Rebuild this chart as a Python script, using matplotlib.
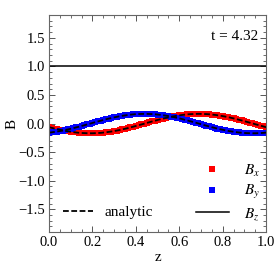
import matplotlib
matplotlib.use('Agg')
import matplotlib.pyplot as plt
from matplotlib.ticker import MultipleLocator

plt.rcParams['font.family'] = ['Liberation Serif', 'DejaVu Serif']
plt.rcParams['mathtext.fontset'] = 'stix'

# data: circularly polarised wave at t = 4.32, sampled every 0.0125 in z
z = [i / 80 for i in range(81)]
bx = [-0.063, -0.075, -0.087, -0.098, -0.108, -0.118, -0.128, -0.136, -0.143, -0.150,
      -0.156, -0.161, -0.165, -0.167, -0.169, -0.170, -0.170, -0.168, -0.166, -0.163,
      -0.158, -0.153, -0.146, -0.139, -0.131, -0.122, -0.113, -0.102, -0.091, -0.080,
      -0.067, -0.055, -0.042, -0.029, -0.016, -0.003, 0.011, 0.024, 0.037, 0.050,
      0.063, 0.075, 0.087, 0.098, 0.108, 0.118, 0.128, 0.136, 0.143, 0.150,
      0.156, 0.161, 0.165, 0.167, 0.169, 0.170, 0.170, 0.168, 0.166, 0.163,
      0.158, 0.153, 0.146, 0.139, 0.131, 0.122, 0.113, 0.102, 0.091, 0.080,
      0.067, 0.055, 0.042, 0.029, 0.016, 0.003, -0.011, -0.024, -0.037, -0.050,
      -0.063]
by = [-0.158, -0.153, -0.146, -0.139, -0.131, -0.122, -0.113, -0.102, -0.091, -0.080,
      -0.067, -0.055, -0.042, -0.029, -0.016, -0.003, 0.011, 0.024, 0.037, 0.050,
      0.063, 0.075, 0.087, 0.098, 0.108, 0.118, 0.128, 0.136, 0.143, 0.150,
      0.156, 0.161, 0.165, 0.167, 0.169, 0.170, 0.170, 0.168, 0.166, 0.163,
      0.158, 0.153, 0.146, 0.139, 0.131, 0.122, 0.113, 0.102, 0.091, 0.080,
      0.067, 0.055, 0.042, 0.029, 0.016, 0.003, -0.011, -0.024, -0.037, -0.050,
      -0.063, -0.075, -0.087, -0.098, -0.108, -0.118, -0.128, -0.136, -0.143, -0.150,
      -0.156, -0.161, -0.165, -0.167, -0.169, -0.170, -0.170, -0.168, -0.166, -0.163,
      -0.158]
bz = [1.0] * len(z)
t_label = 't = 4.32'

fig = plt.figure(figsize=(2.74, 2.74), dpi=100)
ax = fig.add_axes([0.179, 0.153, 0.792, 0.792])

h_bx, = ax.plot(z, bx, 's', color='red', ms=5.0, mew=0, label='$B_x$')
h_by, = ax.plot(z, by, 's', color='blue', ms=5.0, mew=0, label='$B_y$')
h_an, = ax.plot(z, bx, '--', color='black', lw=1.3, dashes=(3.2, 1.4), label='analytic')
ax.plot(z, by, '--', color='black', lw=1.3, dashes=(3.2, 1.4))
h_bz, = ax.plot(z, bz, '-', color='black', lw=1.1, label='$B_z$')

ax.set_xlim(0, 1)
ax.set_ylim(-1.9, 1.9)
ax.xaxis.set_major_locator(MultipleLocator(0.2))
ax.xaxis.set_minor_locator(MultipleLocator(0.05))
ax.yaxis.set_major_locator(MultipleLocator(0.5))
ax.yaxis.set_minor_locator(MultipleLocator(0.1))
ax.tick_params(which='both', direction='in', top=True, right=True, labelsize=10.5,
               color='#555555', pad=3)
ax.tick_params(which='major', length=4, width=0.7)
ax.tick_params(which='minor', length=2, width=0.6)
for s in ax.spines.values():
    s.set_color('#666666')
    s.set_linewidth(0.8)

ax.set_xlabel('z', fontsize=11, labelpad=1)
ax.set_ylabel('B', fontsize=11, labelpad=0)

ax.text(0.965, 0.903, t_label, transform=ax.transAxes, ha='right', va='center',
        fontsize=11)

leg1 = ax.legend(handles=[h_bx, h_by, h_bz], loc='lower right', frameon=False,
                 fontsize=11, handlelength=2.2, handletextpad=1.0, labelspacing=0.3,
                 borderaxespad=0.1, markerscale=0.8, bbox_to_anchor=(1.01, 0.012))
ax.add_artist(leg1)
ax.legend(handles=[h_an], loc='lower left', frameon=False, fontsize=11,
          handlelength=2.0, handletextpad=0.7, bbox_to_anchor=(0.0, -0.005))

fig.savefig('out.png', dpi=100)
